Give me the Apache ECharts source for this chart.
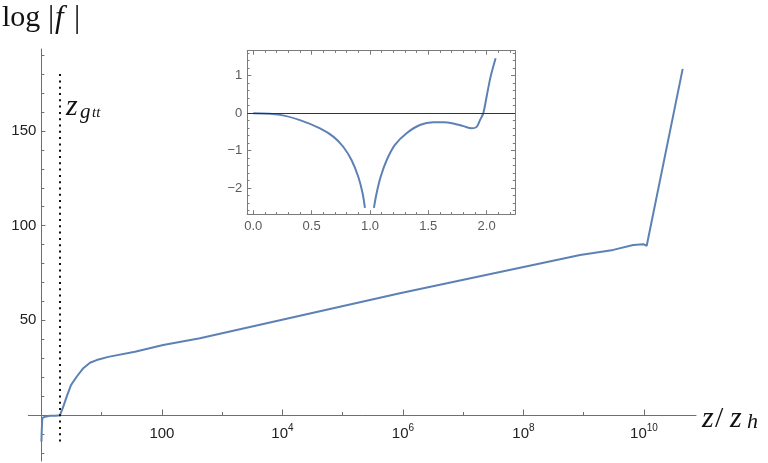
<!DOCTYPE html>
<html>
<head>
<meta charset="utf-8">
<script src="https://cdn.jsdelivr.net/npm/echarts@6/dist/echarts.min.js"></script>
<style>
  html, body { margin: 0; padding: 0; background: #fff; }
  #chart { width: 768px; height: 463px; }
</style>
</head>
<body>
<div id="chart"></div>
<script>
// main curve: z/z_h (log axis) against log|f|
const zMain = [1.002, 1.011, 1.035, 1.148, 1.39, 1.75, 2.03, 2.31, 2.63, 3.10, 3.85, 4.96, 6.41, 8.27,
  12.9, 35.7, 105, 428, 8.9e5, 8.7e8, 3.09e9, 6.61e9, 9.77e9, 1.109e10, 4.385e10]
const logfMain = [-14.1, -9.5, -1.7, -0.9, -0.4, -0.4, -0.2, 4.4, 9.7, 15.8, 20.2, 24.7, 27.6, 29.0,
  30.7, 33.4, 37.0, 40.5, 64.3, 84.5, 87.2, 89.8, 90.2, 89.4, 182.8]

// inset: two branches either side of the zero of f at z = 1
const zInsetLeft = [0, 0.229, 0.40, 0.572, 0.686, 0.771, 0.843, 0.90, 0.937, 0.957]
const logfInsetLeft = [-0.01, -0.05, -0.19, -0.41, -0.63, -0.90, -1.26, -1.70, -2.14, -2.53]
const zInsetRight = [1.034, 1.057, 1.092, 1.143, 1.214, 1.314, 1.428, 1.542, 1.628, 1.714, 1.80,
  1.871, 1.914, 1.943, 1.971, 2.0, 2.034, 2.077]
const logfInsetRight = [-2.53, -2.14, -1.70, -1.26, -0.85, -0.54, -0.32, -0.25, -0.25, -0.28, -0.35,
  -0.41, -0.37, -0.19, -0.01, 0.44, 0.97, 1.46]

const zGtt = 2.03
const gttRange = [-14, 181]

// ticks (main x in decades)
const mainXMajor = [2, 4, 6, 8, 10]
const mainXMinor = [1, 3, 5, 7, 9]
const mainYMajor = [50, 100, 150]
const mainYMinor = [-20, -10, 10, 20, 30, 40, 60, 70, 80, 90, 110, 120, 130, 140, 160, 170, 180, 190]
const insetXMajor = [0, 0.5, 1, 1.5, 2]
const insetXMinor = [0.1, 0.2, 0.3, 0.4, 0.6, 0.7, 0.8, 0.9, 1.1, 1.2, 1.3, 1.4, 1.6, 1.7, 1.8, 1.9, 2.1, 2.2]
const insetYMajor = [-2, -1, 0, 1]
const insetYMinor = [-2.6, -2.4, -2.2, -1.8, -1.6, -1.4, -1.2, -0.8, -0.6, -0.4, -0.2,
  0.2, 0.4, 0.6, 0.8, 1.2, 1.4, 1.6]

const BLUE = '#5E81B5'
const AXIS = '#6e6e6e'
const FRAME = '#7a7a7a'
const SANS = 'Liberation Sans'

const MAIN_X = [-0.217, 10.863]
const MAIN_Y = [-24.3, 193.3]
const INSET_X = [-0.051, 2.243]
const INSET_Y = [-2.701, 1.661]

// main grid box, and where the axes cross (x = 1, log|f| = 0)
const G = { left: 28.3, right: 72, top: 49, bottom: 2 }
const gw = 768 - G.left - G.right
const gh = 463 - G.top - G.bottom
const xOff = -(0 - MAIN_X[0]) / (MAIN_X[1] - MAIN_X[0]) * gw
const yOff = -(0 - MAIN_Y[0]) / (MAIN_Y[1] - MAIN_Y[0]) * gh

const chart = echarts.init(document.getElementById('chart'), null, { renderer: 'canvas' })

const mainX = (ticks, len, showLine, showLabel) => ({
  type: 'value', gridIndex: 0, position: 'bottom', offset: yOff, min: MAIN_X[0], max: MAIN_X[1],
  splitLine: { show: false },
  axisLine: { show: showLine, onZero: false, lineStyle: { color: AXIS, width: 1 } },
  axisTick: { inside: true, length: len, customValues: ticks, lineStyle: { color: AXIS } },
  axisLabel: {
    show: showLabel, customValues: ticks, margin: 8,
    formatter: (v) => (v === 2 ? '{b|100}' : '{b|10}{s|' + v + '}'),
    rich: {
      b: { fontSize: 15, fontFamily: SANS, color: '#222', lineHeight: 21 },
      s: { fontSize: 10, fontFamily: SANS, color: '#222', padding: [0, 0, 11, 0] }
    }
  }
})

const mainY = (ticks, len, showLine) => ({
  type: 'value', gridIndex: 0, position: 'left', offset: xOff, min: MAIN_Y[0], max: MAIN_Y[1],
  splitLine: { show: false },
  axisLine: { show: showLine, onZero: false, lineStyle: { color: AXIS, width: 1 } },
  axisTick: { inside: true, length: len, customValues: ticks, lineStyle: { color: AXIS } },
  axisLabel: { show: false }
})

const insetLabel = { fontSize: 13, fontFamily: SANS, color: '#5a5a5a' }

const insetX = (pos, ticks, len, showLine, showLabel) => ({
  type: 'value', gridIndex: 1, position: pos, min: INSET_X[0], max: INSET_X[1],
  splitLine: { show: false },
  axisLine: { show: showLine, onZero: false, lineStyle: { color: FRAME, width: 1 } },
  axisTick: { inside: true, length: len, customValues: ticks, lineStyle: { color: FRAME } },
  axisLabel: Object.assign({ show: showLabel, customValues: ticks, margin: 6,
    formatter: (v) => v.toFixed(1) }, insetLabel)
})

const insetY = (pos, ticks, len, showLine, showLabel) => ({
  type: 'value', gridIndex: 1, position: pos, min: INSET_Y[0], max: INSET_Y[1],
  splitLine: { show: false },
  axisLine: { show: showLine, onZero: false, lineStyle: { color: FRAME, width: 1 } },
  axisTick: { inside: true, length: len, customValues: ticks, lineStyle: { color: FRAME } },
  axisLabel: Object.assign({ show: showLabel, customValues: ticks, margin: 5,
    formatter: (v) => (v < 0 ? '\u2212' + Math.abs(v) : String(v)) }, insetLabel)
})

const serif = (text, x, y, size, italic) => ({
  type: 'text', x: x, y: y,
  style: { text: text, font: (italic ? 'italic ' : '') + size + 'px "Liberation Serif"', fill: '#111' }
})

const option = {
  animation: false,
  backgroundColor: '#fff',
  grid: [
    Object.assign({ outerBoundsMode: 'none', containLabel: false }, G),
    { left: 247.3, top: 50.7, width: 267.7, height: 163.6, outerBoundsMode: 'none', containLabel: false },
    // labels for the main y axis, on a grid whose left edge is the y axis line
    { left: G.left - xOff, right: G.right, top: G.top, bottom: G.bottom, outerBoundsMode: 'none', containLabel: false }
  ],
  xAxis: [
    mainX(mainXMajor, 5.5, true, true),
    mainX(mainXMinor, 3, false, false),
    insetX('bottom', insetXMajor, 4, true, true),
    insetX('bottom', insetXMinor, 2.2, false, false),
    insetX('top', insetXMajor, 4, true, false),
    insetX('top', insetXMinor, 2.2, false, false),
    { type: 'value', gridIndex: 2, show: false, min: 0, max: 1 }
  ],
  yAxis: [
    mainY(mainYMajor, 4, true),
    mainY(mainYMinor, 3, false),
    insetY('left', insetYMajor, 4, true, true),
    insetY('left', insetYMinor, 2.2, false, false),
    insetY('right', insetYMajor, 4, true, false),
    insetY('right', insetYMinor, 2.2, false, false),
    {
      type: 'value', gridIndex: 2, position: 'left', min: MAIN_Y[0], max: MAIN_Y[1],
      splitLine: { show: false }, axisLine: { show: false }, axisTick: { show: false },
      axisLabel: { customValues: mainYMajor, margin: 5, fontSize: 15, fontFamily: SANS, color: '#222' }
    }
  ],
  series: [
    {
      type: 'line', xAxisIndex: 0, yAxisIndex: 0,
      data: zMain.map((z, i) => [Math.log10(z), logfMain[i]]),
      showSymbol: false, smooth: false,
      lineStyle: { color: BLUE, width: 2 },
      markLine: {
        silent: true, symbol: ['none', 'none'], label: { show: false },
        lineStyle: { color: '#111', width: 2, type: [2, 4.3] },
        data: [[{ coord: [Math.log10(zGtt), gttRange[0]] }, { coord: [Math.log10(zGtt), gttRange[1]] }]]
      }
    },
    {
      type: 'line', xAxisIndex: 2, yAxisIndex: 2,
      data: zInsetLeft.map((z, i) => [z, logfInsetLeft[i]]),
      showSymbol: false, smooth: 0.3,
      lineStyle: { color: BLUE, width: 2 },
      markLine: {
        silent: true, symbol: ['none', 'none'], label: { show: false },
        lineStyle: { color: '#333', width: 1, type: 'solid' },
        data: [{ yAxis: 0 }]
      }
    },
    {
      type: 'line', xAxisIndex: 2, yAxisIndex: 2,
      data: zInsetRight.map((z, i) => [z, logfInsetRight[i]]),
      showSymbol: false, smooth: 0.3,
      lineStyle: { color: BLUE, width: 2 }
    }
  ],
  graphic: [
    {
      type: 'group', left: 2, top: 3,
      children: [
        serif('log', 0, 0, 30, false),
        serif('|', 46, 0, 31, false),
        serif('f', 53, 0, 31, true),
        serif('|', 72, 0, 31, false)
      ]
    },
    {
      type: 'group', left: 66, top: 92,
      children: [
        serif('z', 0, 0, 30, true),
        serif('g', 14, 10, 21, true),
        serif('tt', 26, 14, 15, true)
      ]
    },
    {
      type: 'group', left: 702, top: 404,
      children: [
        serif('z', 0, 0, 30, true),
        serif('/', 13, 0, 30, false),
        serif('z', 28, 0, 30, true),
        serif('h', 45, 7, 22, true)
      ]
    }
  ]
}

chart.setOption(option)
</script>
</body>
</html>
